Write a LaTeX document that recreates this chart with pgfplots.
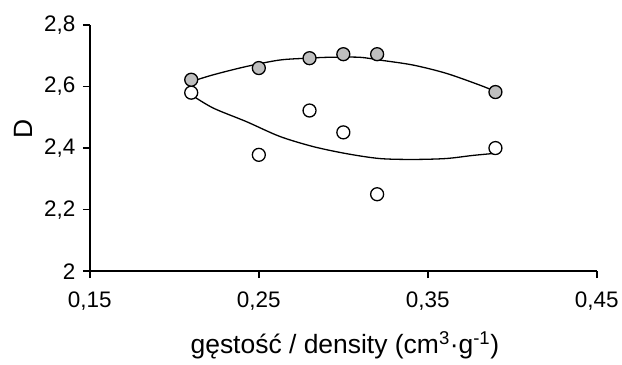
\documentclass[border=0pt]{standalone}
\usepackage{fontspec}
\setmainfont{Liberation Sans}
\usepackage{pgfplots}
\pgfplotsset{compat=1.18}
\begin{document}
\begin{tikzpicture}
\path (-90bp,-93.3bp) rectangle (532bp,271.7bp);
\begin{axis}[
  scale only axis,
  width=508bp, height=246.7bp,
  xmin=0.15, xmax=0.45, ymin=2, ymax=2.8,
  xtick={0.15,0.25,0.35,0.45},
  ytick={2,2.2,2.4,2.6,2.8},
  axis x line*=bottom, axis y line*=left,
  axis line style={line width=1.4bp, -},
  tick align=outside,
  major tick length=7bp,
  tick style={line width=1.4bp, black},
  /pgf/number format/assume math mode=true,
  /pgf/number format/use comma,
  /pgf/number format/fixed,
  /pgf/number format/precision=2,
  yticklabel style={/pgf/number format/precision=1, /pgf/number format/fixed zerofill=false},
  ticklabel style={font=\fontsize{22.5bp}{24bp}\selectfont},
  xticklabel style={yshift=-10bp},
  yticklabel style={xshift=-4bp},
  xlabel={gęstość / density (cm\textsuperscript{3}·g\textsuperscript{-1})},
  ylabel={D},
  label style={font=\fontsize{26.5bp}{29bp}\selectfont},
  xlabel style={at={(axis description cs:0.503,-0.301)}, anchor=center},
  ylabel style={at={(axis description cs:-0.131,0.578)}, anchor=center},
  clip=false,
]
\addplot[black, line width=1.3bp, smooth, tension=0.5] coordinates {
(0.21,2.616) (0.223,2.638) (0.2426,2.665) (0.2623,2.686) (0.279,2.692)
(0.2918,2.695) (0.3096,2.695) (0.3214,2.686) (0.341,2.670) (0.3608,2.643)
(0.3805,2.605) (0.39,2.584)};
\addplot[black, line width=1.3bp, smooth, tension=0.5] coordinates {
(0.21,2.573) (0.223,2.530) (0.2426,2.486) (0.2623,2.438) (0.282,2.405)
(0.3017,2.382) (0.3214,2.366) (0.341,2.363) (0.3608,2.366) (0.3765,2.376)
(0.39,2.383)};
\addplot[only marks, mark=*, mark size=6.5bp, mark options={fill=white, draw=black, line width=1.3bp}] coordinates {
(0.21,2.58) (0.25,2.378) (0.28,2.522) (0.30,2.451) (0.32,2.25) (0.39,2.40)};
\addplot[only marks, mark=*, mark size=6.5bp, mark options={fill=black!25, draw=black, line width=1.3bp}] coordinates {
(0.21,2.622) (0.25,2.66) (0.28,2.692) (0.30,2.705) (0.32,2.705) (0.39,2.582)};
\end{axis}
\end{tikzpicture}
\end{document}
